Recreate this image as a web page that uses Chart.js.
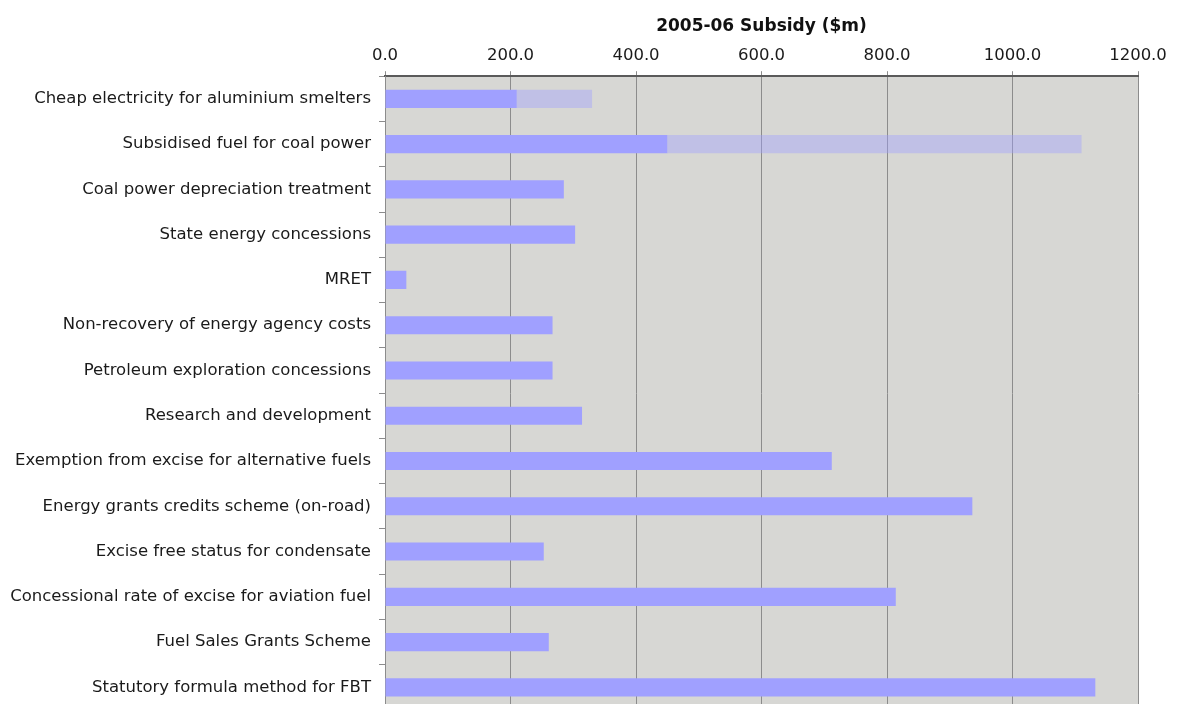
<!DOCTYPE html>
<html>
<head>
<meta charset="UTF-8"/>
<title>2005-06 Subsidy ($m)</title>
<script src="https://cdn.jsdelivr.net/npm/chart.js@4.4.3/dist/chart.umd.min.js"></script>
<style>
  *{box-sizing:border-box;margin:0;padding:0}
  html,body{background:#fff;overflow:hidden}
  canvas{display:block}
</style>
</head>
<body>
<canvas id="subsidy" width="1178" height="712"></canvas>

<script>
// ─── Data ─────────────────────────────────────────────────────────────────────
const categories = [
  'Cheap electricity for aluminium smelters',
  'Subsidised fuel for coal power',
  'Coal power depreciation treatment',
  'State energy concessions',
  'MRET',
  'Non-recovery of energy agency costs',
  'Petroleum exploration concessions',
  'Research and development',
  'Exemption from excise for alternative fuels',
  'Energy grants credits scheme (on-road)',
  'Excise free status for condensate',
  'Concessional rate of excise for aviation fuel',
  'Fuel Sales Grants Scheme',
  'Statutory formula method for FBT',
];

// lower (firm) estimate, $m
const subsidyLow  = [210, 450, 285, 303, 34, 267, 267, 314, 712, 936, 253, 814, 261, 1132];
// upper estimate where only a range is known, $m
const subsidyHigh = [330, 1110, null, null, null, null, null, null, null, null, null, null, null, null];

const xTicks = [0, 200, 400, 600, 800, 1000, 1200];
const axisTitle = '2005-06 Subsidy ($m)';

// ─── Chart ────────────────────────────────────────────────────────────────────
const FONT = "'DejaVu Sans', Verdana, sans-serif";

const plotBg = {
  id: 'plotBg',
  beforeDraw(chart) {
    const { ctx, chartArea: a } = chart;
    ctx.save();
    ctx.fillStyle = '#d7d7d4';
    ctx.fillRect(a.left, a.top, a.right - a.left, a.bottom - a.top);
    ctx.restore();
  }
};

const rangeData = subsidyLow.map((lo, i) => subsidyHigh[i] == null ? null : [lo, subsidyHigh[i]]);

new Chart(document.getElementById('subsidy'), {
  type: 'bar',
  data: {
    labels: categories,
    datasets: [
      { label: 'Range', data: rangeData, backgroundColor: 'rgba(160,160,255,0.42)',
        grouped: false, categoryPercentage: 0.8, barPercentage: 0.5, order: 2 },
      { label: 'Subsidy', data: subsidyLow, backgroundColor: '#a0a0ff',
        grouped: false, categoryPercentage: 0.8, barPercentage: 0.5, order: 1 },
    ]
  },
  plugins: [plotBg],
  options: {
    indexAxis: 'y',
    responsive: false,
    maintainAspectRatio: false,
    animation: false,
    devicePixelRatio: 1,
    layout: { padding: { top: 16, right: 40, bottom: 2, left: 0 } },
    plugins: { legend: { display: false }, tooltip: { enabled: false } },
    scales: {
      x: {
        position: 'top',
        min: 0, max: 1200,
        afterBuildTicks: s => { s.ticks = xTicks.map(v => ({ value: v })); },
        ticks: { color: '#1a1a1a', font: { family: FONT, size: 16.5 }, padding: 6,
                 callback: v => Number(v).toFixed(1), maxRotation: 0 },
        grid: { color: '#8c8c8c', lineWidth: 1, tickLength: 5 },
        border: { color: '#5a5a5a', width: 2 },
        title: { display: true, text: axisTitle, color: '#111',
                 font: { family: FONT, size: 17, weight: 'bold' },
                 padding: { top: 0, bottom: 3 } },
      },
      y: {
        // fixed label column; bands run right to the bottom edge
        afterFit: s => { s.width = 385; s.paddingTop = 0; s.paddingBottom = 0; },
        ticks: { color: '#1a1a1a', font: { family: FONT, size: 16.5 }, padding: 8 },
        grid: { drawOnChartArea: false, drawTicks: true, tickLength: 6, color: '#8c8c8c' },
        border: { color: '#8c8c8c', width: 1 },
      }
    }
  }
});
</script>
</body>
</html>
